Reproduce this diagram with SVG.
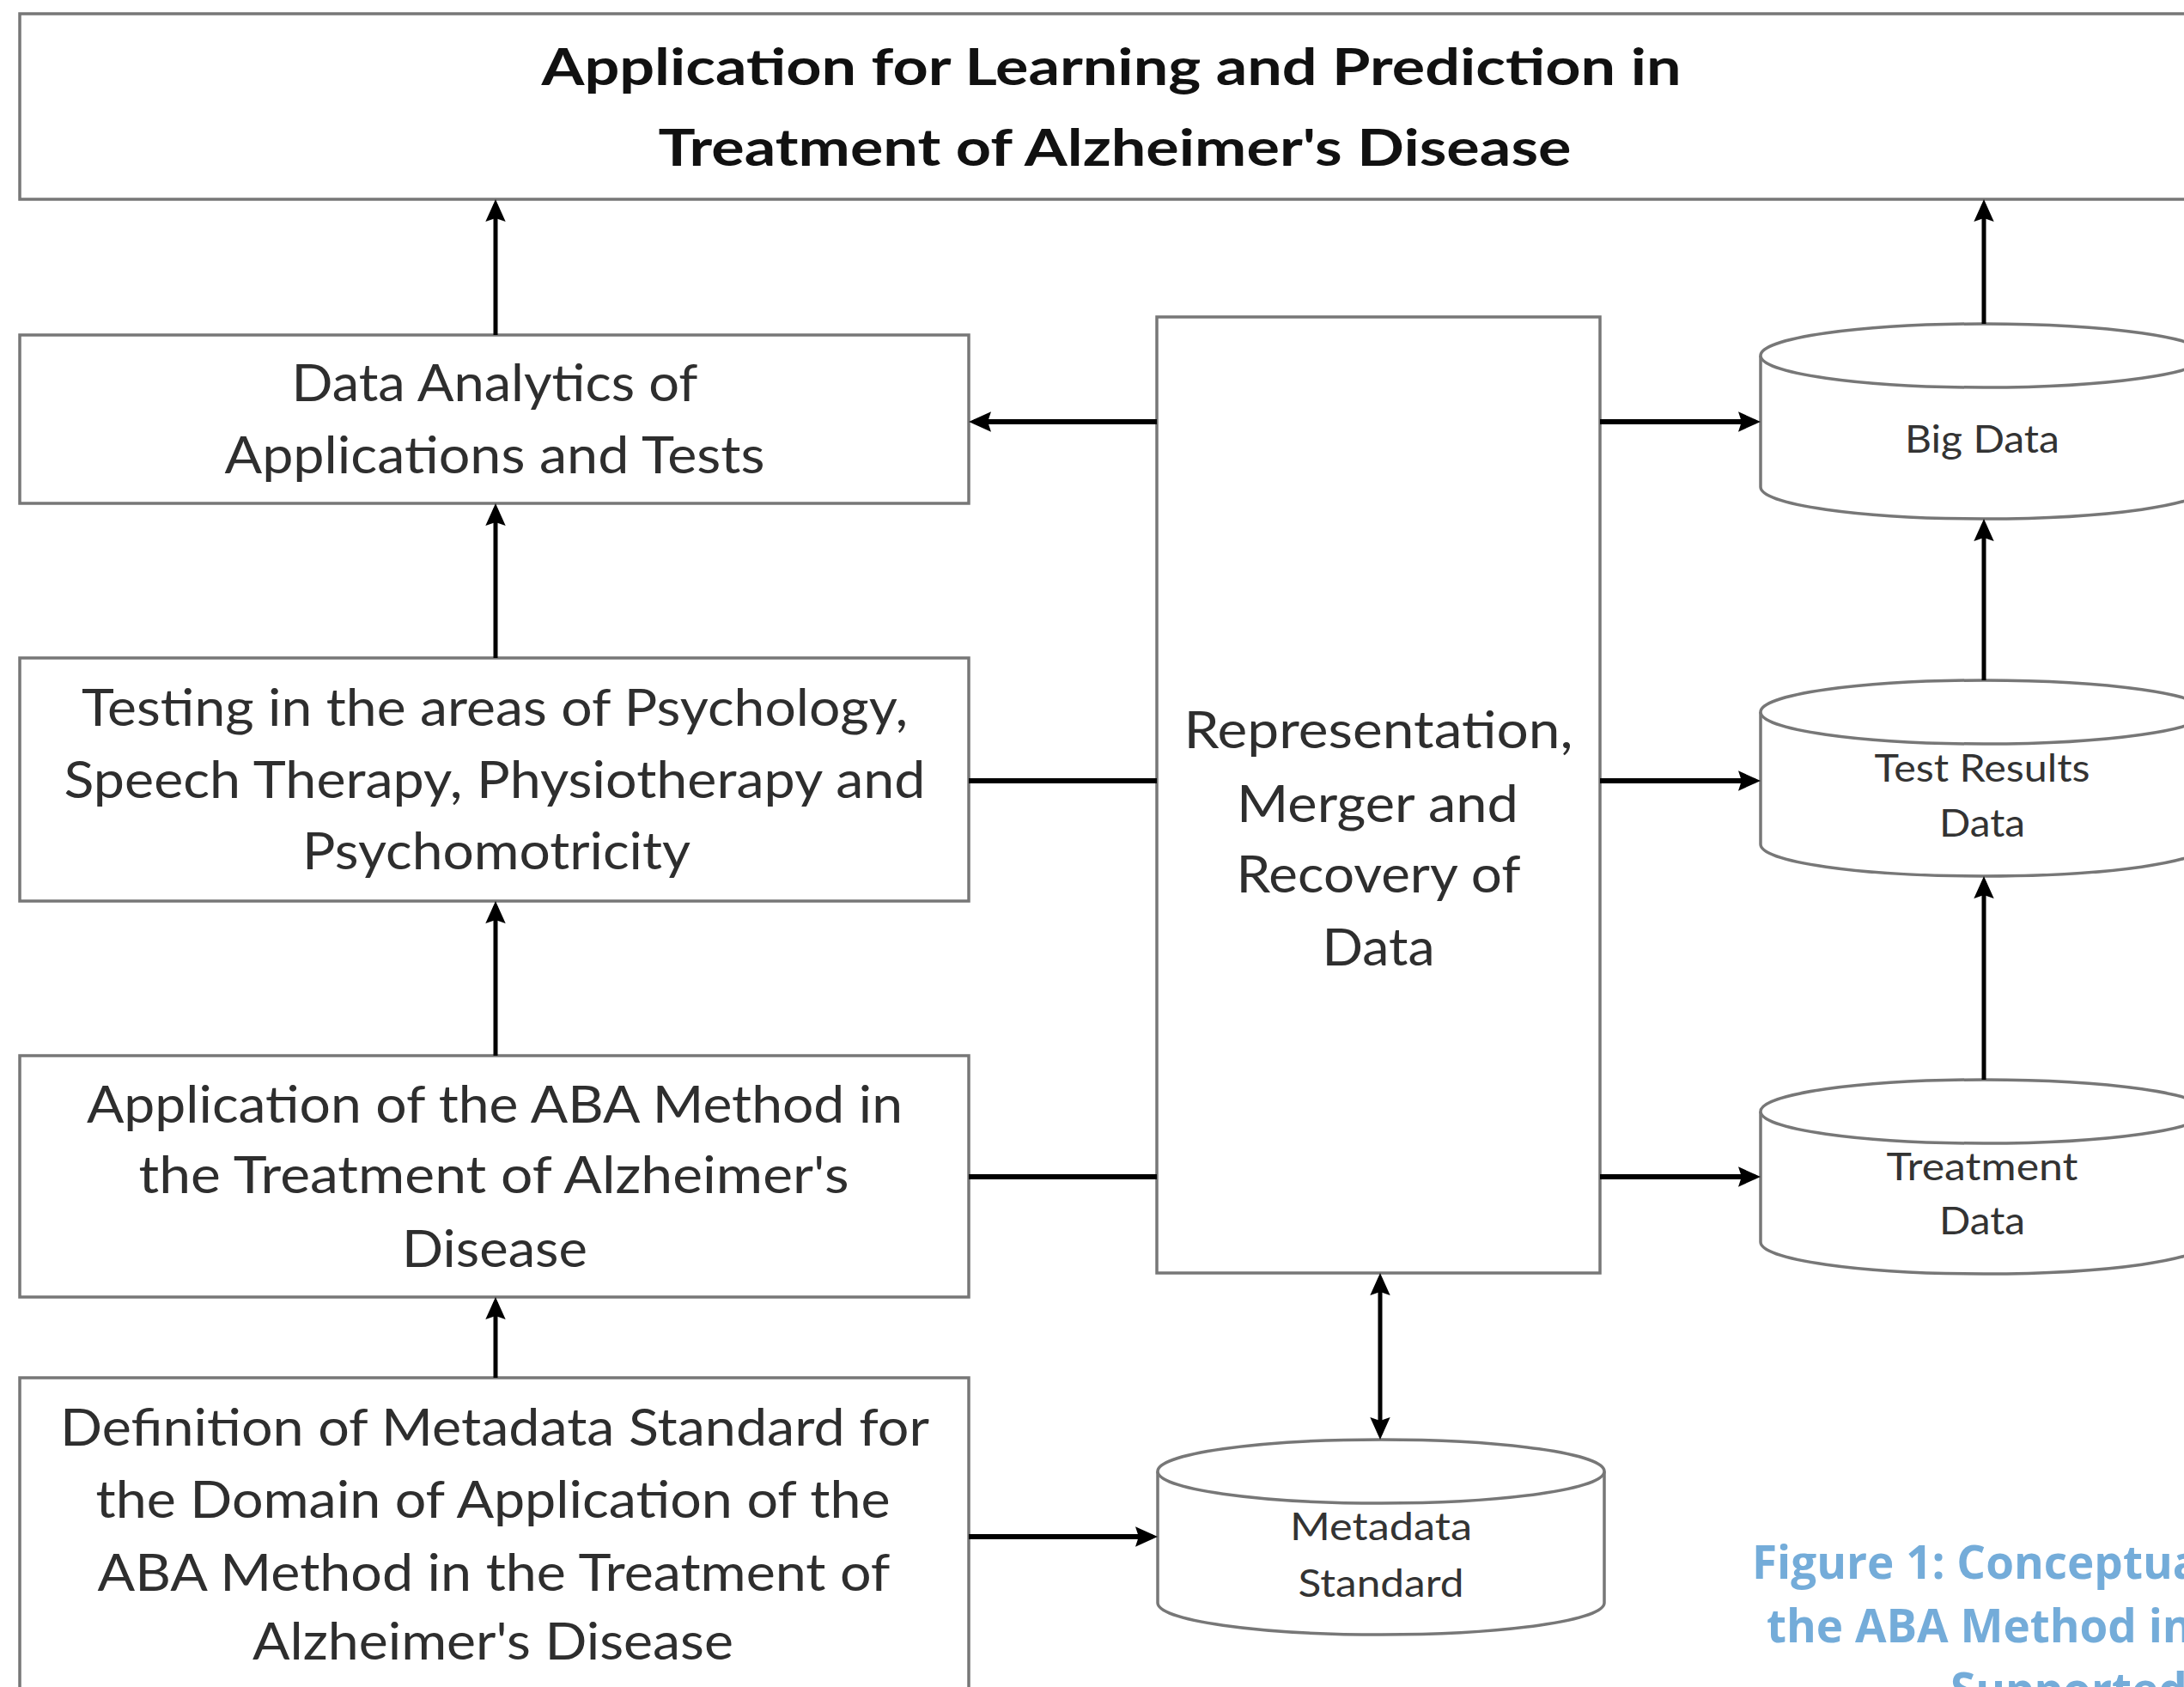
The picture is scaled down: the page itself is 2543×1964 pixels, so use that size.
<svg xmlns="http://www.w3.org/2000/svg" width="2543" height="1964" viewBox="0 0 2543 1964">
<defs>
<style>
.box{fill:#fff;stroke:#777;stroke-width:3.5}
.cyl{fill:#fff;stroke:#777;stroke-width:3.5}
.t{font-family:Lato,"Liberation Sans",sans-serif;font-size:60px;fill:#2e2e2e;text-anchor:middle}
.title{font-family:Lato,"Liberation Sans",sans-serif;font-size:60px;font-weight:bold;fill:#111;text-anchor:middle}
.ct{font-family:Lato,"Liberation Sans",sans-serif;font-size:45px;fill:#333;text-anchor:middle}
.cap{font-family:"Open Sans","Liberation Sans",sans-serif;font-size:53px;font-weight:bold;fill:#74acd9}
.v{stroke:#000;stroke-width:5;fill:none}
.h{stroke:#000;stroke-width:6;fill:none}
</style>
<marker id="ah" viewBox="0 0 10 10" refX="7.7" refY="5" markerWidth="26" markerHeight="26" markerUnits="userSpaceOnUse" orient="auto-start-reverse">
<path d="M0,0.5 L10,5 L0,9.5 L1.5,5 z" fill="#000"/>
</marker>
</defs>
<rect width="2543" height="1964" fill="#fff"/>

<g id="top-box">
<rect class="box" x="23" y="16" width="2560" height="216"/>
<text class="title" x="1294" y="99" textLength="1327" lengthAdjust="spacingAndGlyphs">Application for Learning and Prediction in</text>
<text class="title" x="1298" y="193" textLength="1063" lengthAdjust="spacingAndGlyphs">Treatment of Alzheimer's Disease</text>
</g>

<g id="data-analytics">
<rect class="box" x="23" y="390" width="1105" height="196"/>
<text class="t" x="576" y="467" textLength="473" lengthAdjust="spacingAndGlyphs">Data Analytics of</text>
<text class="t" x="576" y="551" textLength="629" lengthAdjust="spacingAndGlyphs">Applications and Tests</text>
</g>

<g id="testing">
<rect class="box" x="23" y="766" width="1105" height="283"/>
<text class="t" x="576" y="845" textLength="962" lengthAdjust="spacingAndGlyphs">Testing in the areas of Psychology,</text>
<text class="t" x="576" y="929" textLength="1003" lengthAdjust="spacingAndGlyphs">Speech Therapy, Physiotherapy and</text>
<text class="t" x="578" y="1012" textLength="452" lengthAdjust="spacingAndGlyphs">Psychomotricity</text>
</g>

<g id="aba-application">
<rect class="box" x="23" y="1229" width="1105" height="281"/>
<text class="t" x="576" y="1307" textLength="950" lengthAdjust="spacingAndGlyphs">Application of the ABA Method in</text>
<text class="t" x="575" y="1389" textLength="827" lengthAdjust="spacingAndGlyphs">the Treatment of Alzheimer's</text>
<text class="t" x="576" y="1475" textLength="216" lengthAdjust="spacingAndGlyphs">Disease</text>
</g>

<g id="metadata-definition">
<rect class="box" x="23" y="1604" width="1105" height="400"/>
<text class="t" x="576" y="1683" textLength="1012" lengthAdjust="spacingAndGlyphs">Definition of Metadata Standard for</text>
<text class="t" x="574" y="1767" textLength="925" lengthAdjust="spacingAndGlyphs">the Domain of Application of the</text>
<text class="t" x="575" y="1852" textLength="923" lengthAdjust="spacingAndGlyphs">ABA Method in the Treatment of</text>
<text class="t" x="574" y="1932" textLength="560" lengthAdjust="spacingAndGlyphs">Alzheimer's Disease</text>
</g>

<g id="representation">
<rect class="box" x="1347" y="369" width="516" height="1113"/>
<text class="t" x="1605" y="871" textLength="453" lengthAdjust="spacingAndGlyphs">Representation,</text>
<text class="t" x="1604" y="957" textLength="328" lengthAdjust="spacingAndGlyphs">Merger and</text>
<text class="t" x="1605" y="1039" textLength="331" lengthAdjust="spacingAndGlyphs">Recovery of</text>
<text class="t" x="1605" y="1124" textLength="131" lengthAdjust="spacingAndGlyphs">Data</text>
</g>

<g id="big-data">
<path class="cyl" d="M2050,414 V567 A260,37 0 0 0 2570,567 V414"/>
<ellipse class="cyl" cx="2310" cy="414" rx="260" ry="37"/>
<text class="ct" x="2308" y="527" textLength="180" lengthAdjust="spacingAndGlyphs">Big Data</text>
</g>

<g id="test-results-data">
<path class="cyl" d="M2050,829 V983 A260,37 0 0 0 2570,983 V829"/>
<ellipse class="cyl" cx="2310" cy="829" rx="260" ry="37"/>
<text class="ct" x="2308" y="910" textLength="251" lengthAdjust="spacingAndGlyphs">Test Results</text>
<text class="ct" x="2308" y="974" textLength="100" lengthAdjust="spacingAndGlyphs">Data</text>
</g>

<g id="treatment-data">
<path class="cyl" d="M2050,1294 V1446 A260,37 0 0 0 2570,1446 V1294"/>
<ellipse class="cyl" cx="2310" cy="1294" rx="260" ry="37"/>
<text class="ct" x="2308" y="1374" textLength="223" lengthAdjust="spacingAndGlyphs">Treatment</text>
<text class="ct" x="2308" y="1437" textLength="100" lengthAdjust="spacingAndGlyphs">Data</text>
</g>

<g id="metadata-standard">
<path class="cyl" d="M1348,1713 V1866 A260,37 0 0 0 1868,1866 V1713"/>
<ellipse class="cyl" cx="1608" cy="1713" rx="260" ry="37"/>
<text class="ct" x="1608" y="1793" textLength="212" lengthAdjust="spacingAndGlyphs">Metadata</text>
<text class="ct" x="1608" y="1859" textLength="193" lengthAdjust="spacingAndGlyphs">Standard</text>
</g>

<g id="connectors">
<path class="v" d="M577,390 V238" marker-end="url(#ah)"/>
<path class="v" d="M577,766 V592" marker-end="url(#ah)"/>
<path class="v" d="M577,1229 V1055" marker-end="url(#ah)"/>
<path class="v" d="M577,1604 V1516" marker-end="url(#ah)"/>
<path class="v" d="M2310,377 V238" marker-end="url(#ah)"/>
<path class="v" d="M2310,792 V610" marker-end="url(#ah)"/>
<path class="v" d="M2310,1257 V1026" marker-end="url(#ah)"/>
<path class="h" d="M1347,491 H1134" marker-end="url(#ah)"/>
<path class="h" d="M1128,909 H1347"/>
<path class="h" d="M1128,1370 H1347"/>
<path class="h" d="M1128,1789 H1342" marker-end="url(#ah)"/>
<path class="h" d="M1863,491 H2044" marker-end="url(#ah)"/>
<path class="h" d="M1863,909 H2044" marker-end="url(#ah)"/>
<path class="h" d="M1863,1370 H2044" marker-end="url(#ah)"/>
<path class="v" d="M1607,1488 V1670" marker-start="url(#ah)" marker-end="url(#ah)"/>
</g>

<g id="caption">
<text class="cap" x="2040" y="1838">Figure 1: Conceptua</text>
<text class="cap" x="2057" y="1912">the ABA Method in</text>
<text class="cap" x="2271" y="1986">Supported</text>
</g>
</svg>
